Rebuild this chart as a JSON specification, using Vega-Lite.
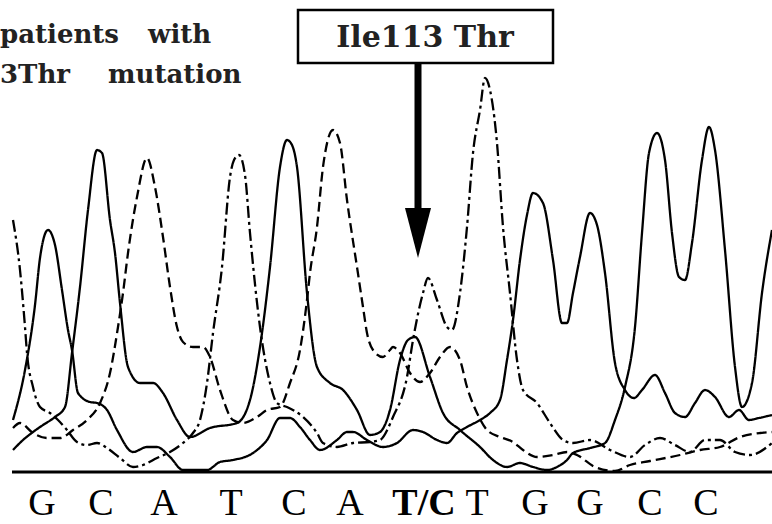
{
  "$schema": "https://vega.github.io/schema/vega-lite/v6.json",
  "width": 772,
  "height": 524,
  "padding": 0,
  "autosize": "none",
  "background": "white",
  "config": {"view": {"stroke": null}},
  "datasets": {
    "traces": [
      {"base":"G","scan":13,"signal":52},{"base":"G","scan":25,"signal":102},{"base":"G","scan":35,"signal":167},{"base":"G","scan":40,"signal":214},{"base":"G","scan":48,"signal":242},{"base":"G","scan":55,"signal":227},{"base":"G","scan":62,"signal":182},{"base":"G","scan":68,"signal":142},{"base":"G","scan":72,"signal":122},{"base":"G","scan":78,"signal":79},{"base":"G","scan":90,"signal":70},{"base":"G","scan":97,"signal":69},{"base":"G","scan":107,"signal":62},{"base":"G","scan":117,"signal":42},{"base":"G","scan":133,"signal":20},{"base":"G","scan":147,"signal":25},{"base":"G","scan":157,"signal":25},{"base":"G","scan":170,"signal":15},{"base":"G","scan":183,"signal":2},{"base":"G","scan":207,"signal":2},{"base":"G","scan":220,"signal":10},{"base":"G","scan":233,"signal":12},{"base":"G","scan":253,"signal":19},{"base":"G","scan":267,"signal":32},{"base":"G","scan":280,"signal":54},{"base":"G","scan":290,"signal":54},{"base":"G","scan":300,"signal":45},{"base":"G","scan":310,"signal":32},{"base":"G","scan":320,"signal":22},{"base":"G","scan":337,"signal":32},{"base":"G","scan":347,"signal":40},{"base":"G","scan":353,"signal":40},{"base":"G","scan":367,"signal":32},{"base":"G","scan":383,"signal":25},{"base":"G","scan":397,"signal":29},{"base":"G","scan":413,"signal":42},{"base":"G","scan":423,"signal":40},{"base":"G","scan":437,"signal":32},{"base":"G","scan":447,"signal":29},{"base":"G","scan":457,"signal":39},{"base":"G","scan":467,"signal":45},{"base":"G","scan":480,"signal":52},{"base":"G","scan":490,"signal":59},{"base":"G","scan":500,"signal":72},{"base":"G","scan":507,"signal":112},{"base":"G","scan":513,"signal":152},{"base":"G","scan":520,"signal":212},{"base":"G","scan":527,"signal":257},{"base":"G","scan":533,"signal":279},{"base":"G","scan":543,"signal":269},{"base":"G","scan":553,"signal":212},{"base":"G","scan":562,"signal":149},{"base":"G","scan":567,"signal":149},{"base":"G","scan":573,"signal":179},{"base":"G","scan":580,"signal":215},{"base":"G","scan":590,"signal":259},{"base":"G","scan":597,"signal":247},{"base":"G","scan":605,"signal":199},{"base":"G","scan":615,"signal":109},{"base":"G","scan":625,"signal":82},{"base":"G","scan":634,"signal":74},{"base":"G","scan":642,"signal":82},{"base":"G","scan":655,"signal":97},{"base":"G","scan":665,"signal":79},{"base":"G","scan":675,"signal":59},{"base":"G","scan":685,"signal":55},{"base":"G","scan":695,"signal":69},{"base":"G","scan":705,"signal":82},{"base":"G","scan":715,"signal":75},{"base":"G","scan":729,"signal":55},{"base":"G","scan":739,"signal":62},{"base":"G","scan":749,"signal":52},{"base":"G","scan":759,"signal":54},{"base":"G","scan":772,"signal":57},

      {"base":"C","scan":13,"signal":22},{"base":"C","scan":23,"signal":32},{"base":"C","scan":33,"signal":40},{"base":"C","scan":43,"signal":47},{"base":"C","scan":55,"signal":55},{"base":"C","scan":65,"signal":65},{"base":"C","scan":72,"signal":119},{"base":"C","scan":80,"signal":185},{"base":"C","scan":88,"signal":262},{"base":"C","scan":97,"signal":322},{"base":"C","scan":102,"signal":319},{"base":"C","scan":110,"signal":252},{"base":"C","scan":115,"signal":219},{"base":"C","scan":120,"signal":169},{"base":"C","scan":128,"signal":105},{"base":"C","scan":140,"signal":89},{"base":"C","scan":153,"signal":89},{"base":"C","scan":163,"signal":79},{"base":"C","scan":177,"signal":52},{"base":"C","scan":190,"signal":35},{"base":"C","scan":210,"signal":44},{"base":"C","scan":237,"signal":49},{"base":"C","scan":250,"signal":72},{"base":"C","scan":260,"signal":125},{"base":"C","scan":270,"signal":205},{"base":"C","scan":280,"signal":305},{"base":"C","scan":287,"signal":332},{"base":"C","scan":292,"signal":327},{"base":"C","scan":297,"signal":305},{"base":"C","scan":307,"signal":179},{"base":"C","scan":317,"signal":105},{"base":"C","scan":330,"signal":89},{"base":"C","scan":343,"signal":82},{"base":"C","scan":357,"signal":62},{"base":"C","scan":370,"signal":37},{"base":"C","scan":380,"signal":40},{"base":"C","scan":390,"signal":62},{"base":"C","scan":400,"signal":112},{"base":"C","scan":408,"signal":132},{"base":"C","scan":415,"signal":135},{"base":"C","scan":430,"signal":95},{"base":"C","scan":443,"signal":59},{"base":"C","scan":460,"signal":42},{"base":"C","scan":480,"signal":25},{"base":"C","scan":493,"signal":12},{"base":"C","scan":507,"signal":5},{"base":"C","scan":520,"signal":9},{"base":"C","scan":533,"signal":5},{"base":"C","scan":547,"signal":2},{"base":"C","scan":557,"signal":5},{"base":"C","scan":567,"signal":12},{"base":"C","scan":573,"signal":19},{"base":"C","scan":590,"signal":24},{"base":"C","scan":605,"signal":29},{"base":"C","scan":615,"signal":52},{"base":"C","scan":625,"signal":85},{"base":"C","scan":635,"signal":145},{"base":"C","scan":642,"signal":239},{"base":"C","scan":649,"signal":319},{"base":"C","scan":657,"signal":339},{"base":"C","scan":665,"signal":312},{"base":"C","scan":672,"signal":239},{"base":"C","scan":679,"signal":195},{"base":"C","scan":685,"signal":192},{"base":"C","scan":692,"signal":229},{"base":"C","scan":702,"signal":312},{"base":"C","scan":709,"signal":345},{"base":"C","scan":715,"signal":322},{"base":"C","scan":725,"signal":222},{"base":"C","scan":735,"signal":105},{"base":"C","scan":742,"signal":65},{"base":"C","scan":752,"signal":89},{"base":"C","scan":762,"signal":179},{"base":"C","scan":772,"signal":242},

      {"base":"A","scan":13,"signal":44},{"base":"A","scan":20,"signal":49},{"base":"A","scan":33,"signal":39},{"base":"A","scan":47,"signal":34},{"base":"A","scan":60,"signal":34},{"base":"A","scan":73,"signal":42},{"base":"A","scan":87,"signal":52},{"base":"A","scan":100,"signal":69},{"base":"A","scan":110,"signal":99},{"base":"A","scan":118,"signal":145},{"base":"A","scan":123,"signal":179},{"base":"A","scan":128,"signal":219},{"base":"A","scan":137,"signal":275},{"base":"A","scan":147,"signal":314},{"base":"A","scan":155,"signal":285},{"base":"A","scan":163,"signal":235},{"base":"A","scan":170,"signal":185},{"base":"A","scan":177,"signal":145},{"base":"A","scan":183,"signal":130},{"base":"A","scan":193,"signal":125},{"base":"A","scan":203,"signal":125},{"base":"A","scan":210,"signal":115},{"base":"A","scan":220,"signal":82},{"base":"A","scan":233,"signal":52},{"base":"A","scan":243,"signal":49},{"base":"A","scan":257,"signal":55},{"base":"A","scan":267,"signal":62},{"base":"A","scan":280,"signal":65},{"base":"A","scan":290,"signal":89},{"base":"A","scan":300,"signal":122},{"base":"A","scan":307,"signal":172},{"base":"A","scan":310,"signal":199},{"base":"A","scan":317,"signal":245},{"base":"A","scan":323,"signal":305},{"base":"A","scan":333,"signal":342},{"base":"A","scan":340,"signal":329},{"base":"A","scan":347,"signal":272},{"base":"A","scan":357,"signal":205},{"base":"A","scan":363,"signal":165},{"base":"A","scan":367,"signal":139},{"base":"A","scan":373,"signal":122},{"base":"A","scan":383,"signal":115},{"base":"A","scan":390,"signal":122},{"base":"A","scan":393,"signal":125},{"base":"A","scan":400,"signal":119},{"base":"A","scan":410,"signal":99},{"base":"A","scan":420,"signal":90},{"base":"A","scan":430,"signal":99},{"base":"A","scan":440,"signal":115},{"base":"A","scan":450,"signal":125},{"base":"A","scan":460,"signal":112},{"base":"A","scan":467,"signal":85},{"base":"A","scan":477,"signal":59},{"base":"A","scan":487,"signal":42},{"base":"A","scan":500,"signal":35},{"base":"A","scan":513,"signal":30},{"base":"A","scan":523,"signal":22},{"base":"A","scan":537,"signal":15},{"base":"A","scan":553,"signal":17},{"base":"A","scan":567,"signal":20},{"base":"A","scan":577,"signal":17},{"base":"A","scan":595,"signal":5},{"base":"A","scan":615,"signal":1},{"base":"A","scan":630,"signal":7},{"base":"A","scan":650,"signal":11},{"base":"A","scan":680,"signal":17},{"base":"A","scan":700,"signal":22},{"base":"A","scan":720,"signal":25},{"base":"A","scan":740,"signal":35},{"base":"A","scan":760,"signal":39},{"base":"A","scan":772,"signal":40},

      {"base":"T","scan":13,"signal":252},{"base":"T","scan":20,"signal":202},{"base":"T","scan":25,"signal":145},{"base":"T","scan":27,"signal":119},{"base":"T","scan":33,"signal":85},{"base":"T","scan":40,"signal":65},{"base":"T","scan":50,"signal":59},{"base":"T","scan":58,"signal":52},{"base":"T","scan":67,"signal":42},{"base":"T","scan":77,"signal":30},{"base":"T","scan":87,"signal":27},{"base":"T","scan":97,"signal":29},{"base":"T","scan":107,"signal":24},{"base":"T","scan":120,"signal":14},{"base":"T","scan":133,"signal":5},{"base":"T","scan":143,"signal":7},{"base":"T","scan":157,"signal":14},{"base":"T","scan":170,"signal":20},{"base":"T","scan":183,"signal":29},{"base":"T","scan":193,"signal":39},{"base":"T","scan":200,"signal":52},{"base":"T","scan":207,"signal":89},{"base":"T","scan":213,"signal":139},{"base":"T","scan":222,"signal":205},{"base":"T","scan":230,"signal":295},{"base":"T","scan":234,"signal":312},{"base":"T","scan":239,"signal":317},{"base":"T","scan":245,"signal":297},{"base":"T","scan":250,"signal":239},{"base":"T","scan":260,"signal":145},{"base":"T","scan":270,"signal":89},{"base":"T","scan":277,"signal":69},{"base":"T","scan":287,"signal":65},{"base":"T","scan":303,"signal":55},{"base":"T","scan":317,"signal":39},{"base":"T","scan":323,"signal":29},{"base":"T","scan":337,"signal":25},{"base":"T","scan":353,"signal":29},{"base":"T","scan":370,"signal":30},{"base":"T","scan":380,"signal":32},{"base":"T","scan":393,"signal":55},{"base":"T","scan":407,"signal":95},{"base":"T","scan":413,"signal":132},{"base":"T","scan":423,"signal":179},{"base":"T","scan":428,"signal":194},{"base":"T","scan":437,"signal":172},{"base":"T","scan":447,"signal":145},{"base":"T","scan":452,"signal":142},{"base":"T","scan":460,"signal":179},{"base":"T","scan":467,"signal":245},{"base":"T","scan":473,"signal":319},{"base":"T","scan":480,"signal":362},{"base":"T","scan":485,"signal":394},{"base":"T","scan":490,"signal":382},{"base":"T","scan":497,"signal":329},{"base":"T","scan":503,"signal":245},{"base":"T","scan":510,"signal":179},{"base":"T","scan":517,"signal":112},{"base":"T","scan":523,"signal":82},{"base":"T","scan":537,"signal":69},{"base":"T","scan":550,"signal":49},{"base":"T","scan":563,"signal":32},{"base":"T","scan":573,"signal":29},{"base":"T","scan":590,"signal":32},{"base":"T","scan":610,"signal":22},{"base":"T","scan":630,"signal":15},{"base":"T","scan":645,"signal":27},{"base":"T","scan":660,"signal":34},{"base":"T","scan":675,"signal":27},{"base":"T","scan":690,"signal":20},{"base":"T","scan":705,"signal":32},{"base":"T","scan":720,"signal":32},{"base":"T","scan":735,"signal":20},{"base":"T","scan":750,"signal":17},{"base":"T","scan":772,"signal":29}
    ],
    "letters": [
      {"letter":"G","scan":42,"signal":-43,"weight":"normal"},
      {"letter":"C","scan":101,"signal":-43,"weight":"normal"},
      {"letter":"A","scan":164,"signal":-43,"weight":"normal"},
      {"letter":"T","scan":231,"signal":-43,"weight":"normal"},
      {"letter":"C","scan":294,"signal":-43,"weight":"normal"},
      {"letter":"A","scan":350,"signal":-43,"weight":"normal"},
      {"letter":"T/C","scan":424,"signal":-43,"weight":"bold"},
      {"letter":"T","scan":477,"signal":-43,"weight":"normal"},
      {"letter":"G","scan":535,"signal":-43,"weight":"normal"},
      {"letter":"G","scan":590,"signal":-43,"weight":"normal"},
      {"letter":"C","scan":650,"signal":-43,"weight":"normal"},
      {"letter":"C","scan":706,"signal":-43,"weight":"normal"}
    ],
    "words": [
      {"word":"patients","scan":0,"signal":429},
      {"word":"with","scan":148,"signal":429},
      {"word":"3Thr","scan":0,"signal":389},
      {"word":"mutation","scan":108,"signal":389}
    ]
  },
  "layer": [
    {
      "data": {"name": "traces"},
      "mark": {"type": "line", "color": "black", "strokeWidth": 2.3, "interpolate": "monotone"},
      "encoding": {
        "x": {"field": "scan", "type": "quantitative", "scale": {"domain": [0, 772], "nice": false, "zero": false}, "axis": null},
        "y": {"field": "signal", "type": "quantitative", "scale": {"domain": [-52, 472], "nice": false, "zero": false}, "axis": null},
        "detail": {"field": "base", "type": "nominal"},
        "strokeDash": {"field": "base", "type": "nominal", "scale": {"domain": ["G", "C", "A", "T"], "range": [[1, 0], [1, 0], [10, 5], [12, 4, 3, 4]]}, "legend": null}
      }
    },
    {
      "data": {"values": [{"scan": 12, "scan2": 772, "signal": 0}]},
      "mark": {"type": "rule", "color": "black", "strokeWidth": 3},
      "encoding": {
        "x": {"field": "scan", "type": "quantitative"},
        "x2": {"field": "scan2"},
        "y": {"field": "signal", "type": "quantitative"}
      }
    },
    {
      "data": {"name": "letters"},
      "transform": [{"filter": "datum.weight === 'normal'"}],
      "mark": {"type": "text", "font": "Liberation Serif", "fontSize": 38, "align": "center", "baseline": "alphabetic", "color": "black"},
      "encoding": {
        "x": {"field": "scan", "type": "quantitative"},
        "y": {"field": "signal", "type": "quantitative"},
        "text": {"field": "letter"}
      }
    },
    {
      "data": {"name": "letters"},
      "transform": [{"filter": "datum.weight === 'bold'"}],
      "mark": {"type": "text", "font": "Liberation Serif", "fontSize": 38, "fontWeight": "bold", "align": "center", "baseline": "alphabetic", "color": "black"},
      "encoding": {
        "x": {"field": "scan", "type": "quantitative"},
        "y": {"field": "signal", "type": "quantitative"},
        "text": {"field": "letter"}
      }
    },
    {
      "data": {"name": "words"},
      "mark": {"type": "text", "font": "DejaVu Serif", "fontSize": 26, "fontWeight": "bold", "align": "left", "baseline": "alphabetic", "color": "#222"},
      "encoding": {
        "x": {"field": "scan", "type": "quantitative"},
        "y": {"field": "signal", "type": "quantitative"},
        "text": {"field": "word"}
      }
    },
    {
      "data": {"values": [{"scan": 298, "scan2": 553, "signal": 462, "signal2": 409}]},
      "mark": {"type": "rect", "fill": "white", "stroke": "black", "strokeWidth": 2.5},
      "encoding": {
        "x": {"field": "scan", "type": "quantitative"},
        "x2": {"field": "scan2"},
        "y": {"field": "signal", "type": "quantitative"},
        "y2": {"field": "signal2"}
      }
    },
    {
      "data": {"values": [{"label": "Ile113 Thr", "scan": 425, "signal": 425}]},
      "mark": {"type": "text", "font": "DejaVu Serif", "fontSize": 30, "fontWeight": "bold", "align": "center", "baseline": "alphabetic", "color": "#222"},
      "encoding": {
        "x": {"field": "scan", "type": "quantitative"},
        "y": {"field": "signal", "type": "quantitative"},
        "text": {"field": "label"}
      }
    },
    {
      "data": {"values": [{"scan": 418, "signal": 408, "signal2": 258}]},
      "mark": {"type": "rule", "color": "black", "strokeWidth": 7},
      "encoding": {
        "x": {"field": "scan", "type": "quantitative"},
        "y": {"field": "signal", "type": "quantitative"},
        "y2": {"field": "signal2"}
      }
    },
    {
      "data": {"values": [{"scan": 418, "signal": 239}]},
      "mark": {"type": "point", "shape": "M -0.52 -1 L 0.52 -1 L 0 1 Z", "filled": true, "color": "black", "opacity": 1, "size": 2500, "strokeWidth": 0},
      "encoding": {
        "x": {"field": "scan", "type": "quantitative"},
        "y": {"field": "signal", "type": "quantitative"}
      }
    }
  ]
}
